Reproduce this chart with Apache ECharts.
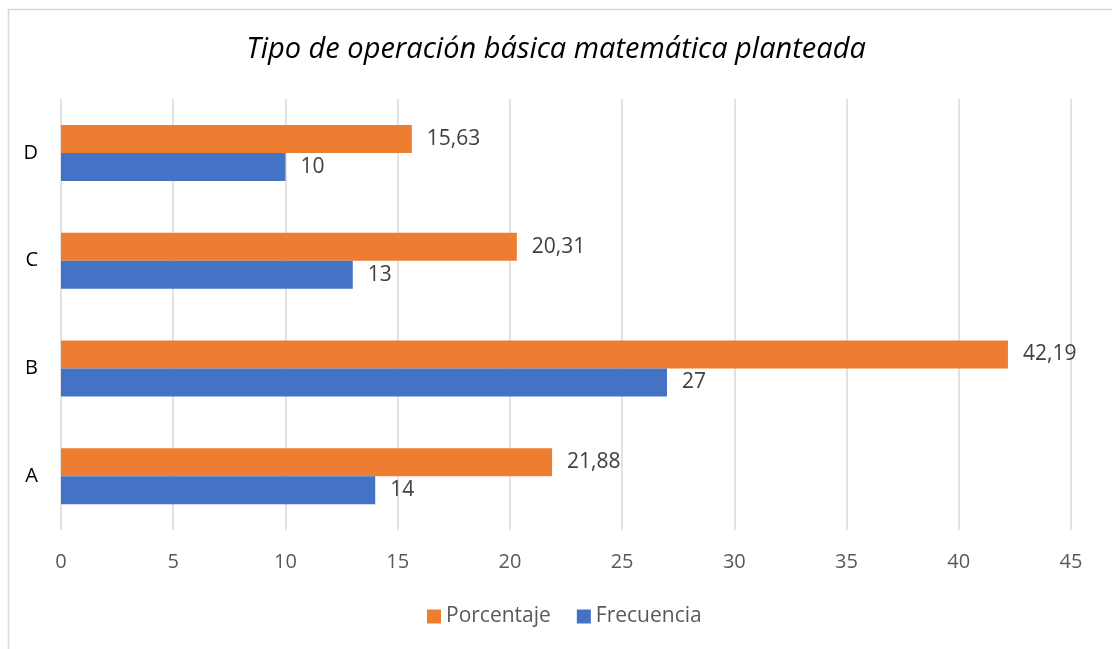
<!DOCTYPE html>
<html>
<head>
<meta charset="utf-8">
<script src="https://cdn.jsdelivr.net/npm/echarts@6/dist/echarts.min.js"></script>
<style>
  html, body { margin: 0; padding: 0; background: #fff; }
  #chart { width: 1112px; height: 649px; }
</style>
</head>
<body>
<div id="chart"></div>
<script>
// datos
var categorias = ["A", "B", "C", "D"];
var porcentaje = [21.88, 42.19, 20.31, 15.63];
var frecuencia = [14, 27, 13, 10];
var ticksX = [0, 5, 10, 15, 20, 25, 30, 35, 40, 45];

var fuente = "'Open Sans', 'Noto Sans', sans-serif";

function etiqueta(p) {
  return String(p.value).replace(".", ",");
}

var chart = echarts.init(document.getElementById("chart"));

var option = {
  animation: false,
  backgroundColor: "#fff",
  title: {
    text: "Tipo de operación básica matemática planteada",
    left: "center",
    top: 30,
    textStyle: {
      fontFamily: fuente,
      fontStyle: "italic",
      fontWeight: "normal",
      fontSize: 29,
      color: "#000"
    }
  },
  graphic: [
    {
      type: "rect",
      left: 6,
      top: 7,
      shape: { width: 1130, height: 670 },
      style: { fill: "none", stroke: "#d9d9d9", lineWidth: 1.5 },
      silent: true
    }
  ],
  legend: {
    data: ["Porcentaje", "Frecuencia"],
    bottom: 17,
    left: 422,
    itemWidth: 14,
    itemHeight: 14,
    itemGap: 26,
    icon: "rect",
    textStyle: { fontFamily: fuente, fontSize: 21, color: "#595959" }
  },
  grid: {
    left: 61,
    right: 41,
    top: 99,
    bottom: 119,
    containLabel: false
  },
  xAxis: {
    type: "value",
    min: ticksX[0],
    max: ticksX[ticksX.length - 1],
    interval: 5,
    axisLine: { show: false },
    axisTick: { show: false },
    axisLabel: {
      margin: 22,
      fontFamily: fuente,
      fontSize: 20,
      color: "#595959"
    },
    splitLine: { show: true, lineStyle: { color: "#d9d9d9", width: 1.5 } }
  },
  yAxis: {
    type: "category",
    data: categorias,
    axisLine: { show: false },
    axisTick: { show: false },
    axisLabel: {
      margin: 23,
      fontFamily: fuente,
      fontSize: 20,
      color: "#000"
    }
  },
  series: [
    {
      name: "Porcentaje",
      type: "bar",
      data: porcentaje,
      barWidth: 28,
      barGap: 0,
      itemStyle: { color: "#ED7D31" },
      label: {
        show: true,
        position: "right",
        distance: 15,
        formatter: etiqueta,
        fontFamily: fuente,
        fontSize: 21,
        color: "#404040"
      }
    },
    {
      name: "Frecuencia",
      type: "bar",
      data: frecuencia,
      barWidth: 28,
      barGap: 0,
      itemStyle: { color: "#4472C4" },
      label: {
        show: true,
        position: "right",
        distance: 15,
        formatter: etiqueta,
        fontFamily: fuente,
        fontSize: 21,
        color: "#404040"
      }
    }
  ]
};

chart.setOption(option);
</script>
</body>
</html>
